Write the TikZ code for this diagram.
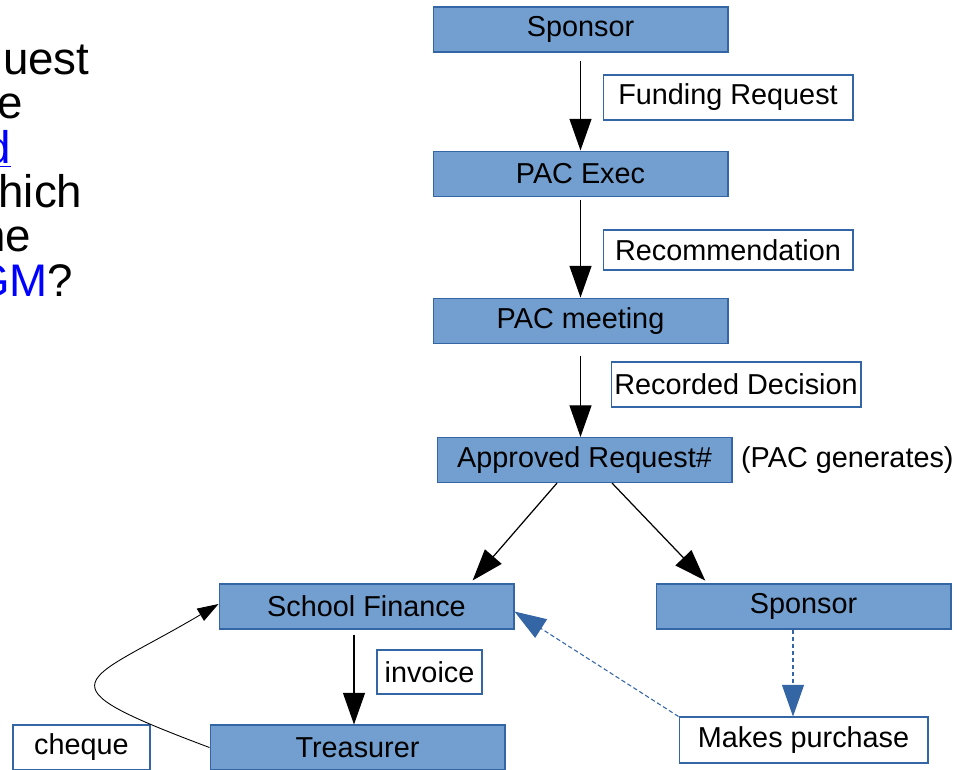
\documentclass[tikz,border=0pt]{standalone}
\usepackage{fontspec}
\setmainfont{Liberation Sans}
\usetikzlibrary{calc,
arrows.meta,
positioning}
\definecolor{boxfill}{HTML}{729FCF}
\definecolor{boxline}{HTML}{3465A4}
\definecolor{linkblue}{HTML}{0000FF}

\begin{document}
\begin{tikzpicture} [x=0.02cm, y=-0.02cm,
    -{Triangle[length=18pt, width=12.5pt]},
    line width=0.7pt,
    main node/.style={rectangle, fill=boxfill, draw=boxline,
        line width=0.6pt, minimum width=5.9cm, minimum height=0.9cm,
        inner sep=0pt},
    tag node/.style={rectangle, fill=white, draw=boxline,
        line width=0.6pt, minimum height=0.9cm, inner sep=0pt},
    purchase line/.style={draw=boxline, line width=0.6pt,
        dash pattern=on 2.5pt off 1.5pt},
    every node/.style={font=\fontsize{16.4}{19}\selectfont}
  ]

  \useasboundingbox (0, 0) rectangle (959, 769);

  % question text, cut at the left edge
  \foreach \txt/\xr/\yb [count=\i] in {uest/90/74.5, e/24/118.5,
      {\color{linkblue}\underline{d}}/12/163, hich/83/207, he/32/251,
      {{\color{linkblue}GM}?}/74/296.5}
    \node [anchor = base east, inner sep = 0pt,
      font = \fontsize{26}{26}\selectfont
    ] (q\i) at (\xr, \yb) {\txt};

  \node [main node] (sponsor) at (580.5, 29.5) {Sponsor};

  \node [main node,
    below = 1.96cm of sponsor
  ] (pacexec) {PAC Exec};

  \node [main node,
    below = 2.02cm of pacexec
  ] (pacmeet) {PAC meeting};

  \node [main node] (approved) at (584.5, 460) {Approved Request\#};
  \node [inner sep = 0pt,
    right = 0.16cm of approved
  ] (pacgen) {(PAC generates)};

  \node [tag node, minimum width = 5cm] (fundreq) at (728, 97.5) {Funding Request};
  \node [tag node, minimum width = 5cm,
    minimum height = 0.8cm
  ] (recomm) at (728, 250) {Recommendation};
  \node [tag node, minimum width = 5cm] (recdec) at (736, 384.5) {Recorded Decision};

  \draw [shorten <= 0.16cm] (sponsor) -- (pacexec);
  \draw [shorten <= 0.06cm] (pacexec) -- (pacmeet);
  \draw [shorten <= 0.24cm] (pacmeet.south) -- (pacmeet.south |- approved.north);

  \node [main node] (finance) at (366.5, 606.5) {School Finance};
  \node [main node] (sponsortwo) at (803.5, 606.5) {Sponsor};

  \draw [shorten >= 0.08cm] ([xshift = -0.55cm]approved.south) -- ([xshift = 2.07cm]finance.north);
  \draw [shorten >= 0.08cm] ([xshift = 0.55cm]approved.south) -- ([xshift = -1.91cm]sponsortwo.north);

  \node [main node] (treasurer) at (357.5, 747.5) {Treasurer};
  \node [tag node,
    minimum width = 2.1cm,
    minimum height = 0.88cm
  ] (invoice) at (429.5, 672) {invoice};
  \node [tag node, minimum width = 2.74cm] (cheque) at (81.5, 747.5) {cheque};

  \draw [shorten <= 0.1cm] ([xshift = -0.25cm]finance.south) -- ([xshift = -0.25cm]finance.south |- treasurer.north);

  \draw [line width = 0.5pt, -{Triangle[length=12pt, width=8pt]}]
    (treasurer.west) .. controls +(-176, -66) and +(-135, 80) .. ([yshift = 0.05cm]finance.west);

  \node [tag node,
    minimum width = 4.98cm,
    minimum height = 0.92cm
  ] (purchase) at (803.5, 740) {Makes purchase};

  \draw [purchase line] ([xshift = -0.21cm]sponsortwo.south) -- ([xshift = -0.21cm]purchase.north);
  \draw [purchase line] (purchase.north west) -- ([yshift = -0.1cm]finance.east);

\end{tikzpicture}
\end{document}
